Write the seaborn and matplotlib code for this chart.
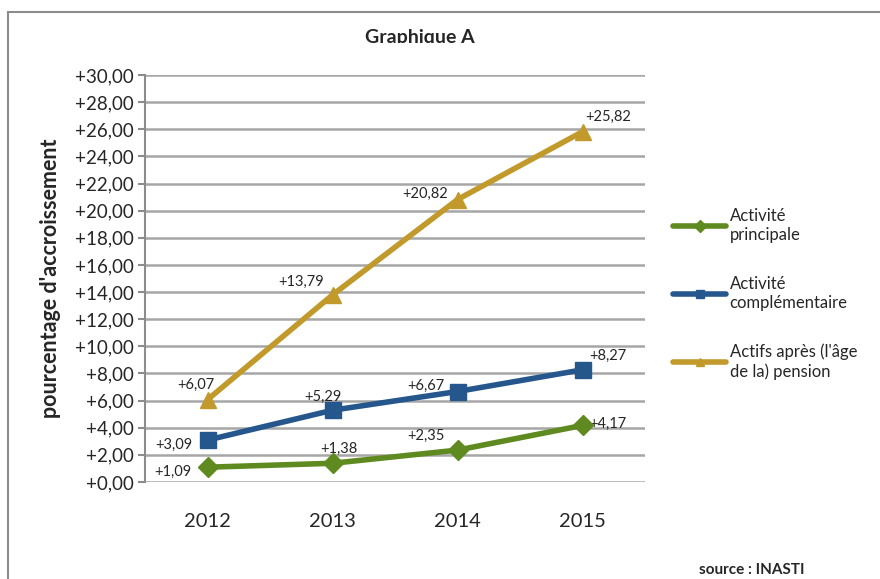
import matplotlib
matplotlib.use("Agg")
import matplotlib.pyplot as plt
import seaborn as sns
import pandas as pd
from matplotlib.patches import Rectangle
from matplotlib.transforms import Bbox
from matplotlib.lines import Line2D

years = ["2012", "2013", "2014", "2015"]
series_names = ["Activité\nprincipale", "Activité\ncomplémentaire", "Actifs après (l'âge\nde la) pension"]
principale = [1.09, 1.38, 2.35, 4.17]
complementaire = [3.09, 5.29, 6.67, 8.27]
pension = [6.07, 13.79, 20.82, 25.82]
y_ticks = list(range(0, 31, 2))

colors = ["#5E8A1F", "#25568C", "#C19A2B"]
markers = ["D", "s", "^"]
msizes = [10, 12, 12]

rows = []
for name, vals in zip(series_names, [principale, complementaire, pension]):
    for i, (yr, v) in enumerate(zip(years, vals)):
        rows.append({"x": i, "year": yr, "value": v, "series": name})
df = pd.DataFrame(rows)

sns.set_theme(style="white")
plt.rcParams["font.family"] = ["Lato", "DejaVu Sans"]

fig = plt.figure(figsize=(8.8, 5.79), dpi=100)
ax = fig.add_axes([145 / 880, 1 - 482 / 579, 500 / 880, (482 - 75) / 579])

# frame around chart
fig.add_artist(Rectangle((8 / 880, -0.1), 1.2, 1 - 12 / 579 + 0.1, transform=fig.transFigure,
                         fill=False, edgecolor="#8C8C8C", linewidth=1.5))

sns.lineplot(data=df, x="x", y="value", hue="series", palette=colors, ax=ax,
             linewidth=4, legend=False, sort=False)
for k, (name, vals) in enumerate(zip(series_names, [principale, complementaire, pension])):
    ax.plot(range(len(years)), vals, linestyle="none", marker=markers[k], markersize=msizes[k],
            color=colors[k], zorder=5)

ax.set_xlim(-0.5, 3.5)
ax.set_ylim(0, 30)
ax.set_yticks(y_ticks)
ax.set_yticklabels([f"+{t:.2f}".replace(".", ",") for t in y_ticks], fontsize=13.5,
                   family=["Liberation Sans Narrow", "Lato", "DejaVu Sans"])
ax.set_xticks(range(len(years)))
ax.set_xticklabels(years, fontsize=14.5)
ax.tick_params(axis="x", length=0, pad=22)
ax.tick_params(axis="y", length=5, color="#8C8C8C", width=1.5, left=True, pad=3)
ax.grid(axis="y", color="#A6A6A6", linewidth=1.8)
ax.set_axisbelow(True)
for s in ["top", "right", "bottom"]:
    ax.spines[s].set_visible(False)
ax.spines["left"].set_color("#8C8C8C")
ax.spines["left"].set_linewidth(1.5)
ax.set_xlabel("")
ax.set_ylabel("pourcentage d'accroissement", fontsize=15.5, fontweight="bold", labelpad=10)

# data labels
offsets = {
    0: [(-35, -5), (6, 14), (-32, 14), (25, 2)],
    1: [(-34, -5), (-10, 13), (-32, 6), (25, 14)],
    2: [(-12, 15), (-31, 13), (-32, 6), (26, 15)],
}
for k, vals in enumerate([principale, complementaire, pension]):
    for i, v in enumerate(vals):
        dx, dy = offsets[k][i]
        ax.annotate(f"+{v:.2f}".replace(".", ","), (i, v), xytext=(dx, dy),
                    textcoords="offset pixels", ha="center", va="center", fontsize=10.5)

# legend
handles = [Line2D([], [], color=colors[k], linewidth=4, marker=markers[k], markersize=6)
           for k in range(3)]
fig.legend(handles, series_names, loc="upper left", bbox_to_anchor=(658 / 880, 1 - 193 / 579),
           frameon=False, fontsize=12, handlelength=3.2, handletextpad=0.2, labelspacing=2.0)

title = fig.text(420 / 880, 1 - 38 / 579, "Graphique A", ha="center", va="center", fontsize=14,
                 fontweight="bold")
title.set_clip_box(Bbox.from_extents(0, 579 - 43, 880, 579))
title.set_clip_on(True)
fig.text(752 / 880, 1 - 570 / 579, "source : INASTI", ha="center", va="center", fontsize=11,
         fontweight="bold")

fig.savefig("out.png", dpi=100)
